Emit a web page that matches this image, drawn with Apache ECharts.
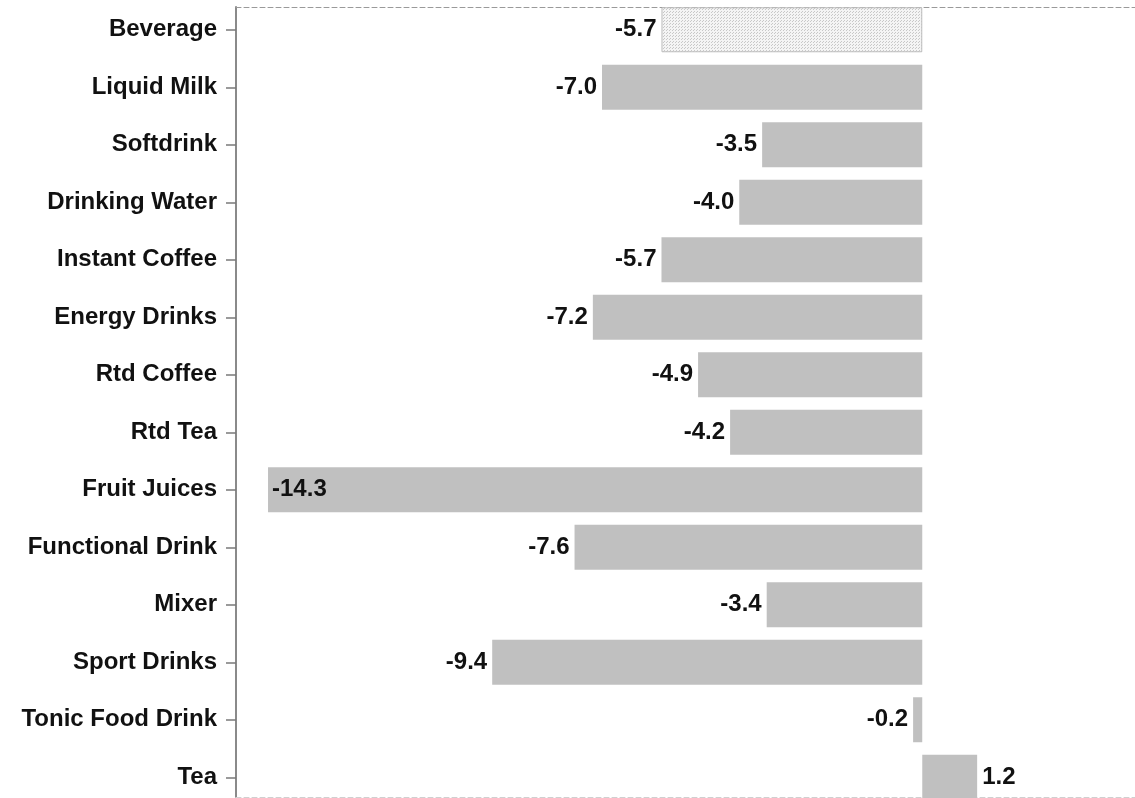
<!DOCTYPE html>
<html>
<head>
<meta charset="utf-8">
<script src="https://cdn.jsdelivr.net/npm/echarts@6/dist/echarts.min.js"></script>
<style>html,body{margin:0;padding:0;background:#fff;overflow:hidden}#c{width:1135px;height:798px}</style>
</head>
<body>
<div id="c"></div>
<script>
const categories = ["Beverage","Liquid Milk","Softdrink","Drinking Water","Instant Coffee","Energy Drinks","Rtd Coffee","Rtd Tea","Fruit Juices","Functional Drink","Mixer","Sport Drinks","Tonic Food Drink","Tea"];
const values = [-5.7,-7.0,-3.5,-4.0,-5.7,-7.2,-4.9,-4.2,-14.3,-7.6,-3.4,-9.4,-0.2,1.2];
const xMin = -15, xMax = 5;

// dotted pattern for the total (Beverage) bar
const pc = document.createElement('canvas');
pc.width = 3; pc.height = 3;
const pctx = pc.getContext('2d');
pctx.fillStyle = '#f4f4f4'; pctx.fillRect(0,0,3,3);
pctx.fillStyle = '#c8c8c8'; pctx.fillRect(0,0,1,1); pctx.fillRect(1,2,1,1);

const font = "'Liberation Sans', Arial, sans-serif";
const data = values.map((v, i) => {
  const item = { value: v, label: { position: v < 0 ? 'left' : 'right' } };
  if (v <= xMin + 1) item.label = { position: 'insideLeft', distance: 4 };
  if (i === 0) item.itemStyle = { color: { image: pc, repeat: 'repeat' }, borderColor: '#bcbcbc', borderWidth: 1 };
  return item;
});

const chart = echarts.init(document.getElementById('c'));
chart.setOption({
  animation: false,
  grid: [
    { left: 236, top: 1, width: 915, height: 805, outerBoundsMode: 'none', containLabel: false },
    { left: 236, top: 7, width: 915, height: 790, outerBoundsMode: 'none', containLabel: false }
  ],
  xAxis: [
    { type: 'value', gridIndex: 0, min: xMin, max: xMax, show: false },
    { type: 'value', gridIndex: 1, min: xMin, max: xMax, position: 'top',
      axisLine: { show: true, onZero: false, lineStyle: { color: '#9a9a9a', type: [5, 3], width: 1 } },
      axisTick: { show: false }, axisLabel: { show: false }, splitLine: { show: false } },
    { type: 'value', gridIndex: 1, min: xMin, max: xMax, position: 'bottom',
      axisLine: { show: true, onZero: false, lineStyle: { color: '#d0d0d0', type: [5, 3], width: 1 } },
      axisTick: { show: false }, axisLabel: { show: false }, splitLine: { show: false } }
  ],
  yAxis: [
    { type: 'category', gridIndex: 0, data: categories, inverse: true, position: 'left',
      axisLine: { show: false, onZero: false },
      axisTick: { show: true, alignWithLabel: true, length: 10, lineStyle: { color: '#7a7a7a', width: 1.5 } },
      axisLabel: { margin: 19, color: '#111', fontWeight: 'bold', fontSize: 24, fontFamily: font } },
    { type: 'value', gridIndex: 1, min: 0, max: 1, position: 'left',
      axisLine: { show: true, onZero: false, lineStyle: { color: '#8a8a8a', width: 2 } },
      axisTick: { show: false }, axisLabel: { show: false }, splitLine: { show: false } }
  ],
  series: [{
    type: 'bar', xAxisIndex: 0, yAxisIndex: 0, data: data, barWidth: 45,
    itemStyle: { color: '#c0c0c0' },
    label: { show: true, distance: 5, color: '#111', fontWeight: 'bold', fontSize: 24, fontFamily: font,
      formatter: p => p.value.toFixed(1) }
  }]
});
</script>
</body>
</html>
